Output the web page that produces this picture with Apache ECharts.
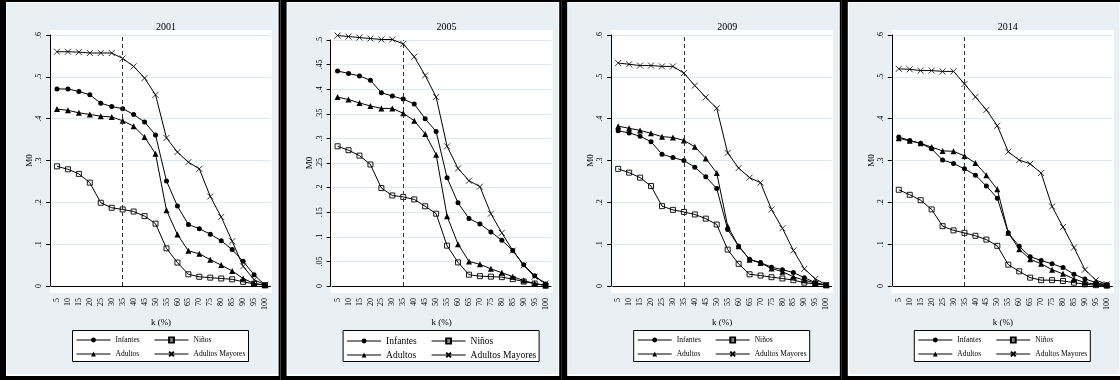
<!DOCTYPE html>
<html>
<head>
<meta charset="utf-8">
<script src="https://cdn.jsdelivr.net/npm/echarts@6/dist/echarts.min.js"></script>
<style>
  html, body { margin: 0; padding: 0; background: #fff; }
  #chart { width: 1120px; height: 380px; }
</style>
</head>
<body>
<div id="chart"></div>
<script>
// k (%) cut-offs
const kCuts = ['5', '10', '15', '20', '25', '30', '35', '40', '45', '50',
  '55', '60', '65', '70', '75', '80', '85', '90', '95', '100']
const groupNames = ['Infantes', 'Niños', 'Adultos', 'Adultos Mayores']
const years = ['2001', '2005', '2009', '2014']

// M0 por grupo y año
const infantes2001 = [0.471, 0.471, 0.465, 0.457, 0.437, 0.429, 0.424, 0.410, 0.392, 0.361, 0.251, 0.191, 0.147, 0.137, 0.124, 0.108, 0.087, 0.059, 0.027, 0.002]
const ninos2001 = [0.286, 0.279, 0.268, 0.247, 0.199, 0.187, 0.183, 0.178, 0.167, 0.149, 0.090, 0.056, 0.028, 0.022, 0.020, 0.018, 0.016, 0.010, 0.005, 0.002]
const adultos2001 = [0.423, 0.420, 0.414, 0.410, 0.406, 0.404, 0.395, 0.382, 0.356, 0.316, 0.181, 0.123, 0.084, 0.077, 0.063, 0.050, 0.036, 0.018, 0.006, 0.002]
const mayores2001 = [0.560, 0.560, 0.559, 0.557, 0.557, 0.557, 0.544, 0.525, 0.497, 0.457, 0.354, 0.320, 0.296, 0.280, 0.214, 0.165, 0.107, 0.047, 0.015, 0.003]

const infantes2005 = [0.437, 0.432, 0.427, 0.418, 0.393, 0.386, 0.380, 0.370, 0.340, 0.314, 0.220, 0.169, 0.137, 0.126, 0.110, 0.093, 0.072, 0.043, 0.021, 0.004]
const ninos2005 = [0.284, 0.276, 0.265, 0.247, 0.199, 0.184, 0.181, 0.176, 0.162, 0.147, 0.082, 0.048, 0.023, 0.020, 0.019, 0.018, 0.014, 0.009, 0.005, 0.001]
const adultos2005 = [0.384, 0.379, 0.372, 0.366, 0.361, 0.361, 0.351, 0.336, 0.309, 0.267, 0.142, 0.085, 0.050, 0.044, 0.035, 0.027, 0.019, 0.011, 0.005, 0.001]
const mayores2005 = [0.509, 0.507, 0.505, 0.503, 0.501, 0.501, 0.492, 0.466, 0.428, 0.384, 0.284, 0.239, 0.214, 0.202, 0.147, 0.108, 0.072, 0.042, 0.019, 0.005]

const infantes2009 = [0.371, 0.366, 0.358, 0.345, 0.315, 0.307, 0.300, 0.284, 0.261, 0.233, 0.135, 0.095, 0.064, 0.056, 0.045, 0.039, 0.032, 0.020, 0.008, 0.002]
const ninos2009 = [0.280, 0.271, 0.259, 0.239, 0.191, 0.182, 0.177, 0.171, 0.161, 0.147, 0.087, 0.053, 0.028, 0.025, 0.021, 0.018, 0.014, 0.008, 0.005, 0.002]
const adultos2009 = [0.382, 0.377, 0.372, 0.365, 0.357, 0.355, 0.348, 0.333, 0.305, 0.270, 0.143, 0.095, 0.063, 0.055, 0.042, 0.034, 0.022, 0.014, 0.007, 0.002]
const mayores2009 = [0.533, 0.530, 0.527, 0.527, 0.525, 0.525, 0.509, 0.479, 0.451, 0.425, 0.318, 0.282, 0.259, 0.247, 0.183, 0.138, 0.085, 0.041, 0.017, 0.003]

const infantes2014 = [0.356, 0.348, 0.341, 0.328, 0.301, 0.293, 0.280, 0.265, 0.239, 0.210, 0.127, 0.095, 0.070, 0.061, 0.053, 0.044, 0.028, 0.017, 0.008, 0.003]
const ninos2014 = [0.230, 0.218, 0.205, 0.183, 0.143, 0.133, 0.127, 0.120, 0.111, 0.096, 0.051, 0.035, 0.020, 0.014, 0.014, 0.012, 0.008, 0.004, 0.002, 0.001]
const adultos2014 = [0.353, 0.347, 0.341, 0.332, 0.323, 0.322, 0.311, 0.294, 0.265, 0.231, 0.127, 0.088, 0.064, 0.053, 0.039, 0.029, 0.017, 0.008, 0.004, 0.002]
const mayores2014 = [0.519, 0.518, 0.515, 0.515, 0.513, 0.513, 0.483, 0.452, 0.421, 0.383, 0.321, 0.301, 0.292, 0.270, 0.190, 0.141, 0.092, 0.039, 0.014, 0.004]

// ejes y por panel
const yMaxList = [0.6, 0.5, 0.6, 0.6]
const yStepList = [0.1, 0.05, 0.1, 0.1]
const cutLine = '35'

const panelData = [
  [infantes2001, ninos2001, adultos2001, mayores2001],
  [infantes2005, ninos2005, adultos2005, mayores2005],
  [infantes2009, ninos2009, adultos2009, mayores2009],
  [infantes2014, ninos2014, adultos2014, mayores2014]
]

const FONT = '"Liberation Serif", "DejaVu Serif", serif'
const PANEL_W = 280.6
const BG = '#e9eff2'

/** marcadores de cada grupo */
const markerList = [
  { symbol: 'circle', symbolSize: 5, itemStyle: { color: '#000', borderWidth: 0 } },
  { symbol: 'rect', symbolSize: 5, itemStyle: { color: 'transparent', borderColor: '#000', borderWidth: 0.9 } },
  { symbol: 'triangle', symbolSize: 6, itemStyle: { color: '#000', borderWidth: 0 } },
  { symbol: 'path://M0,0L10,10M10,0L0,10', symbolSize: 6, itemStyle: { color: '#000', borderColor: '#000', borderWidth: 0.8 } }
]

// formato tipo Stata: .1 en vez de 0.1
const fmt = v => (v === 0 ? '0' : String(+v.toFixed(2)).replace(/^0/, ''))

const grid = []
const xAxis = []
const yAxis = []
const series = []
const title = []
const legend = []
const graphic = []

years.forEach((year, i) => {
  const L = i * PANEL_W
  const big = i === 1 // 2005 tiene la leyenda más grande

  // marco del panel
  graphic.push(
    { type: 'rect', z: -10, shape: { x: L, y: 0, width: PANEL_W, height: 380 }, style: { fill: '#000' }, silent: true },
    { type: 'rect', z: -10, shape: { x: L + 6, y: 2, width: PANEL_W - 8, height: 374 }, style: { fill: '#fff' }, silent: true },
    { type: 'rect', z: -10, shape: { x: L + 7, y: 3, width: PANEL_W - 10, height: 371 }, style: { fill: BG }, silent: true },
    // región del gráfico
    { type: 'rect', z: -9, shape: { x: L + 50, y: 30, width: 222, height: 263 }, style: { fill: '#fff' }, silent: true },
    // caja de la leyenda
    {
      type: 'rect', z: -9,
      shape: big ? { x: L + 62.5, y: 330.5, width: 196, height: 31 } : { x: L + 72.5, y: 330.5, width: 176, height: 31 },
      style: { fill: '#fff', stroke: '#000', lineWidth: 1 },
      silent: true
    }
  )

  title.push({
    text: year,
    left: L + 151,
    top: 17,
    textStyle: { fontFamily: FONT, fontSize: 10, fontWeight: 'normal', color: '#000' }
  })

  grid.push({ left: L + 51.5, top: yMaxList[i] === 0.6 ? 35 : 40, width: 219, height: yMaxList[i] === 0.6 ? 251 : 246 })

  xAxis.push({
    gridIndex: i,
    type: 'category',
    data: kCuts,
    boundaryGap: true,
    offset: 7,
    name: 'k (%)',
    nameLocation: 'middle',
    nameGap: 24,
    nameTextStyle: { fontFamily: FONT, fontSize: 9, color: '#000' },
    axisLine: { lineStyle: { color: '#000', width: 1 } },
    axisTick: { alignWithLabel: true, length: 4, lineStyle: { color: '#000' } },
    axisLabel: { interval: 0, rotate: 90, margin: 5, fontFamily: FONT, fontSize: 8, color: '#000' },
    splitLine: { show: false }
  })

  yAxis.push({
    gridIndex: i,
    type: 'value',
    min: 0,
    max: yMaxList[i],
    interval: yStepList[i],
    offset: 1.5,
    name: 'M0',
    nameLocation: 'middle',
    nameRotate: 90,
    nameGap: 16,
    nameTextStyle: { fontFamily: FONT, fontSize: 9, color: '#000' },
    axisLine: { show: true, lineStyle: { color: '#000', width: 1 } },
    axisTick: { show: true, length: 4, lineStyle: { color: '#000' } },
    axisLabel: { rotate: 90, margin: 7, fontFamily: FONT, fontSize: 8, color: '#000', formatter: fmt },
    splitLine: { show: true, lineStyle: { color: '#e1e9ed', width: 1 } }
  })

  groupNames.forEach((name, g) => {
    const m = markerList[g]
    const s = {
      name,
      type: 'line',
      xAxisIndex: i,
      yAxisIndex: i,
      data: panelData[i][g],
      symbol: m.symbol,
      symbolSize: m.symbolSize,
      showAllSymbol: true,
      clip: false,
      itemStyle: m.itemStyle,
      lineStyle: { color: '#000', width: 1 },
      emphasis: { disabled: true },
      animation: false,
      z: 3
    }
    if (g === 0) {
      s.markLine = {
        silent: true,
        symbol: 'none',
        label: { show: false },
        lineStyle: { color: '#333', width: 1, type: [4, 3] },
        data: [{ xAxis: cutLine }]
      }
    }
    series.push(s)

    // leyenda en dos columnas
    const col = g % 2
    const row = Math.floor(g / 2)
    const colX = big ? [66, 150.5] : [76, 154]
    legend.push({
      data: [name],
      left: L + colX[col],
      top: row === 0 ? 336 : 350,
      itemWidth: 34,
      itemHeight: 6,
      padding: 0,
      selectedMode: false,
      lineStyle: { width: 1 },
      textStyle: { fontFamily: FONT, fontSize: big ? 9.5 : 7.5, color: '#000' }
    })
  })
})

const chart = echarts.init(document.getElementById('chart'), null, { renderer: 'canvas' })
chart.setOption({
  animation: false,
  backgroundColor: '#fff',
  title,
  legend,
  grid,
  xAxis,
  yAxis,
  series,
  graphic
})
</script>
</body>
</html>
